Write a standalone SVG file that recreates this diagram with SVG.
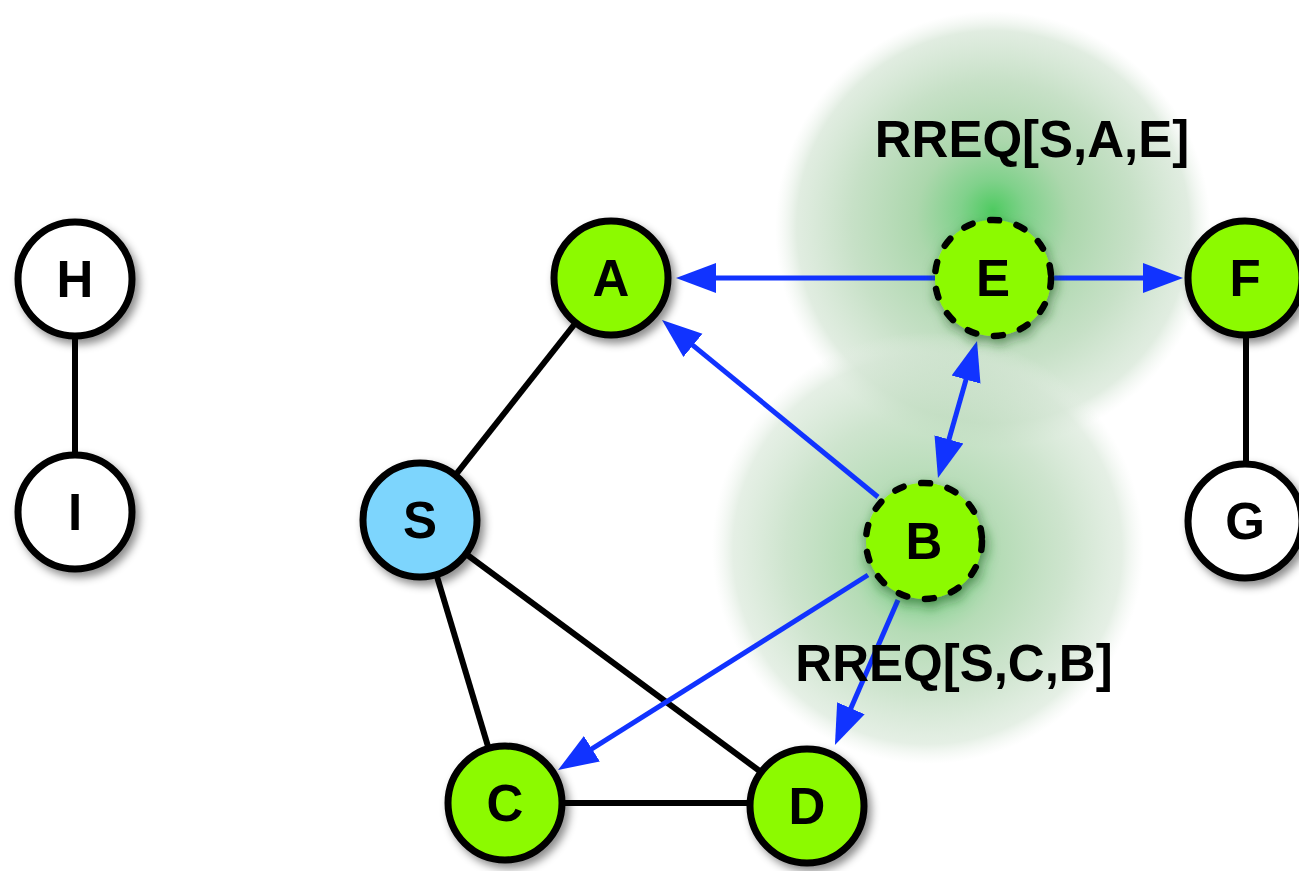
<svg xmlns="http://www.w3.org/2000/svg" width="1299" height="871" viewBox="0 0 1299 871">
<style>
.node{stroke:#000;stroke-width:7}
.green{fill:#8cfa00}
.white{fill:#fff}
.blue{fill:#7dd5fd}
.dash{fill:#8cfa00;stroke:#000;stroke-width:6.5;stroke-dasharray:9 18;stroke-linecap:round}
.lbl{font-family:"Liberation Sans",Arial,sans-serif;font-weight:bold;font-size:51px;fill:#000;text-anchor:middle}
.edge{stroke:#000;stroke-width:6;fill:none}
.arr{stroke:#1133ff;stroke-width:5;fill:none;marker-end:url(#ah)}
</style>
<defs>
<marker id="ah" markerUnits="userSpaceOnUse" markerWidth="42" markerHeight="32" viewBox="0 0 42 32" refX="2" refY="16" orient="auto-start-reverse">
<path d="M0,1 L40,16 L0,31 z" fill="#1133ff"/>
</marker>
<radialGradient id="glowE" cx="993" cy="229" r="218" fx="993" fy="210" gradientUnits="userSpaceOnUse">
<stop offset="0" stop-color="#45c858" stop-opacity="0.95"/>
<stop offset="0.15" stop-color="#72cc7e" stop-opacity="0.9"/>
<stop offset="0.35" stop-color="#9dd09e" stop-opacity="0.85"/>
<stop offset="0.65" stop-color="#b9d9b9" stop-opacity="0.8"/>
<stop offset="0.9" stop-color="#d4e5d4" stop-opacity="0.7"/>
<stop offset="1" stop-color="#e6efe6" stop-opacity="0"/>
</radialGradient>
<radialGradient id="glowB" cx="928" cy="548" r="216" fx="923" fy="565" gradientUnits="userSpaceOnUse">
<stop offset="0" stop-color="#45c858" stop-opacity="0.95"/>
<stop offset="0.15" stop-color="#72cc7e" stop-opacity="0.85"/>
<stop offset="0.35" stop-color="#9dd09e" stop-opacity="0.75"/>
<stop offset="0.65" stop-color="#b9d9b9" stop-opacity="0.7"/>
<stop offset="0.9" stop-color="#d4e5d4" stop-opacity="0.6"/>
<stop offset="1" stop-color="#e6efe6" stop-opacity="0"/>
</radialGradient>
<filter id="sh" x="-30%" y="-30%" width="170%" height="170%">
<feDropShadow dx="4" dy="5" stdDeviation="4" flood-color="#000" flood-opacity="0.45"/>
</filter>
<filter id="shg" x="-30%" y="-30%" width="170%" height="170%">
<feDropShadow dx="2" dy="5" stdDeviation="6" flood-color="#1a5a1a" flood-opacity="0.6"/>
</filter>
</defs>
<rect width="1299" height="871" fill="#fff"/>
<g id="glows">
<circle cx="993" cy="229" r="218" fill="url(#glowE)"/>
<circle cx="928" cy="548" r="216" fill="url(#glowB)"/>
</g>
<g id="connectors">
<line class="edge" x1="75" y1="279" x2="75" y2="512"/>
<line class="edge" x1="611" y1="278" x2="420" y2="520"/>
<line class="edge" x1="420" y1="520" x2="505" y2="803"/>
<line class="edge" x1="420" y1="520" x2="807" y2="806"/>
<line class="edge" x1="505" y1="803" x2="807" y2="803"/>
<line class="edge" x1="1246" y1="278" x2="1246" y2="521"/>
<line class="arr" x1="935" y1="278" x2="714" y2="278"/>
<line class="arr" x1="1052" y1="278" x2="1145" y2="278"/>
<line class="arr" x1="878" y1="497" x2="691.4" y2="344.1"/>
<line class="arr" x1="948.4" y1="441.4" x2="966.6" y2="377.6" style="marker-start:url(#ah)"/>
<line class="arr" x1="868" y1="575" x2="590.2" y2="749.8"/>
<line class="arr" x1="898" y1="600" x2="850.1" y2="710.1"/>
</g>
<g id="node-H"><circle class="node white" cx="75" cy="279" r="57" filter="url(#sh)"/><text class="lbl" x="75" y="297">H</text></g>
<g id="node-I"><circle class="node white" cx="75" cy="512" r="57" filter="url(#sh)"/><text class="lbl" x="75" y="530">I</text></g>
<g id="node-A"><circle class="node green" cx="611" cy="278" r="57" filter="url(#sh)"/><text class="lbl" x="611" y="296">A</text></g>
<g id="node-E"><circle class="dash" cx="993" cy="278" r="58" filter="url(#shg)"/><text class="lbl" x="993" y="296">E</text></g>
<g id="node-F"><circle class="node green" cx="1245" cy="278" r="57" filter="url(#sh)"/><text class="lbl" x="1245" y="296">F</text></g>
<g id="node-S"><circle class="node blue" cx="420" cy="520" r="57" filter="url(#sh)"/><text class="lbl" x="420" y="538">S</text></g>
<g id="node-B"><circle class="dash" cx="924" cy="541" r="58" filter="url(#shg)"/><text class="lbl" x="924" y="559">B</text></g>
<g id="node-G"><circle class="node white" cx="1245" cy="521" r="57" filter="url(#sh)"/><text class="lbl" x="1245" y="539">G</text></g>
<g id="node-C"><circle class="node green" cx="505" cy="803" r="57" filter="url(#sh)"/><text class="lbl" x="505" y="821">C</text></g>
<g id="node-D"><circle class="node green" cx="807" cy="806" r="57" filter="url(#sh)"/><text class="lbl" x="807" y="824">D</text></g>
<g id="labels">
<text class="lbl" x="1032" y="157">RREQ[S,A,E]</text>
<text class="lbl" x="954" y="681">RREQ[S,C,B]</text>
</g>
</svg>
